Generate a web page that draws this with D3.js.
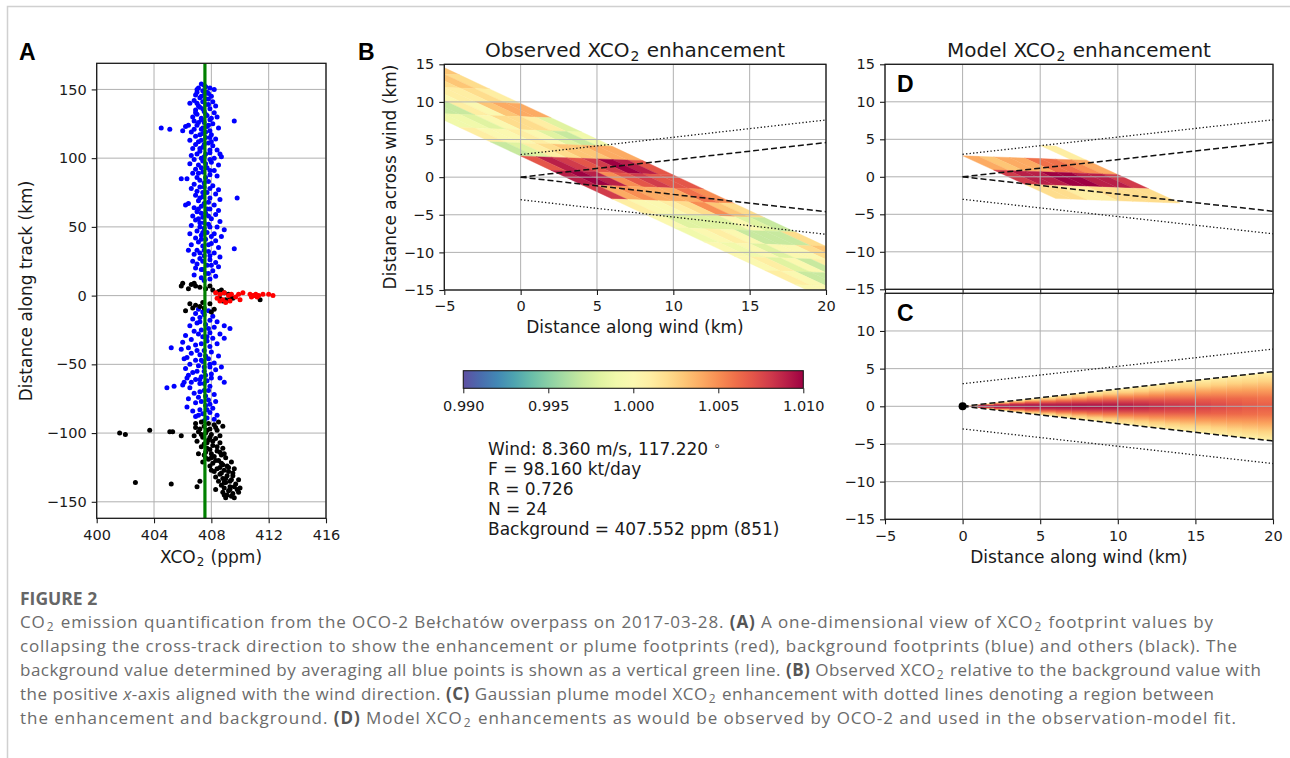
<!DOCTYPE html>
<html>
<head>
  <meta charset="utf-8" />
  <title>OCO-2 Belchatow XCO2 enhancement</title>
  <script src="https://d3js.org/d3.v7.min.js"></script>
  <style>
    body { margin: 0; background: #fff; }
    svg { display: block; }
  </style>
</head>
<body>
  <svg id="fig" width="1290" height="758"></svg>
  <script>
    // ---------- panel A : footprints collapsed along track ----------
    const xco2Ticks = [400, 404, 408, 412, 416];
    const trackTicks = [-150, -100, -50, 0, 50, 100, 150];
    const backgroundPpm = 407.552;

    const bluePts = [
      [407.3,154],[407.6,152],[407.1,151],[407.9,151],[408.2,150],[407.4,149],[407.0,148],[407.7,148],[406.9,146],[407.5,146],
      [408.0,145],[407.2,144],[407.8,143],[406.8,142],[407.4,141],[408.1,141],[407.0,140],[407.6,139],[406.5,140],[408.3,138],
      [407.2,137],[407.9,136],[406.9,135],[407.5,134],[408.2,133],[407.0,132],[407.7,131],[406.7,130],[408.4,130],[407.3,129],
      [407.9,128],[409.6,127],[406.8,127],[407.5,126],[408.1,125],[406.4,124],[407.0,124],[407.7,123],[406.2,123],[408.5,122],
      [404.5,122],[405.1,121],[406.0,120],[407.3,121],[407.9,120],
      [406.6,119],[407.4,118],[408.0,117],[406.9,116],[407.6,115],[408.3,114],[406.5,113],[407.1,112],[407.8,111],[406.9,110],
      [408.1,109],[407.4,108],[406.7,107],[408.4,106],[407.2,105],[407.9,104],[408.6,103],[406.6,102],[407.5,101],[408.2,100],
      [408.7,101],[406.8,99],
      [407.4,98],[408.0,97],[406.5,96],[407.1,95],[408.5,95],[407.7,93],[406.9,92],[408.2,91],[407.4,90],[406.7,89],
      [407.9,88],[408.4,87],[405.9,85],[406.3,85],[407.2,84],[407.8,83],[406.8,81],[408.1,80],[407.5,79],[406.6,78],
      [408.5,77],[407.0,76],[407.7,75],[408.3,74],[406.9,73],[407.4,72],[409.8,71],[408.6,70],[407.1,69],[407.8,68],
      [406.4,67],[406.2,66],[408.2,66],[407.3,65],[406.8,64],[407.9,63],[408.5,62],[407.0,61],[407.6,60],
      [408.3,59],[406.7,58],[407.4,57],[408.0,56],[406.9,55],[408.6,54],[407.2,53],[407.8,52],[406.6,51],[408.4,50],
      [407.5,49],[408.9,48],[407.0,47],[407.7,46],[406.5,45],[408.2,45],[407.3,44],[408.7,43],[406.9,42],[407.6,41],
      [408.3,40],[407.1,39],[408.0,38],[406.6,37],[407.4,36],[408.5,35],[409.6,34],[406.4,33],[407.0,33],[407.8,32],
      [408.2,31],[406.8,30],[407.5,29],[408.6,28],[407.2,27],[407.9,26],[406.7,25],[408.3,24],[407.0,23],[407.7,22],
      [408.5,21],[406.9,20],[407.4,19],[408.1,18],[407.6,16],[406.8,15],[408.3,14],[407.3,13],[407.9,12],
      [407.5,153],[407.0,150],[407.8,147],[407.3,145],[407.6,143],[407.1,138],[407.8,139],[407.4,136],[406.9,133],[407.6,132],
      [407.3,128],[408.0,129],[407.1,126],[407.8,124],[407.4,122],[406.8,121],[407.6,119],[407.2,117],[407.9,115],[407.3,113],
      [408.0,112],[407.5,110],[407.2,107],[407.9,106],[407.6,103],[407.0,103],[407.3,100],[407.9,99],[407.6,96],[407.3,93],
      [407.9,91],[407.1,89],[407.6,86],[407.0,86],[407.5,82],[407.2,79],[407.9,78],[407.4,75],[407.2,71],[407.9,71],
      [407.5,67],[407.1,63],[407.7,63],[407.3,60],[407.8,58],[407.1,56],[407.5,53],[407.2,50],[407.9,50],[407.4,46],
      [408.0,43],[407.3,41],[407.8,37],[407.5,33],[407.2,31],[407.9,29],[407.4,25],[408.0,22],[407.3,19],[407.8,16],[407.5,11],
      [407.1,-10],[407.8,-11],[406.9,-13],[407.5,-14],[408.1,-15],[407.2,-16],[406.7,-17],[407.9,-18],[408.4,-19],[407.0,-20],
      [407.6,-21],[406.5,-22],[408.2,-23],[408.9,-22],[409.3,-24],[407.3,-25],[406.8,-26],[407.9,-27],[408.6,-28],[406.2,-29],
      [407.4,-30],[408.1,-31],[406.6,-32],[407.7,-33],[406.0,-34],[408.4,-35],[406.9,-36],[405.2,-38],[405.9,-39],[406.4,-38],
      [407.5,-40],[408.0,-41],[406.6,-42],[407.2,-43],[408.5,-44],[406.3,-45],[407.8,-46],[406.9,-47],[407.4,-48],[408.2,-49],
      [406.5,-50],[407.1,-51],[407.9,-52],[406.2,-53],[408.3,-54],[407.5,-55],[406.7,-56],[408.0,-57],[406.4,-58],[407.3,-59],
      [408.6,-60],[406.9,-61],[407.7,-62],[406.1,-63],[408.9,-63],[407.2,-64],[406.0,-65],[405.4,-66],[404.9,-67],[406.5,-67],
      [407.9,-66],[407.5,-69],[406.8,-71],[408.2,-72],[407.1,-74],[406.4,-75],[407.8,-76],[408.3,-77],[406.9,-78],[407.6,-80],
      [406.3,-81],[407.2,-83],[408.1,-82],[406.7,-84],[407.9,-85],[407.4,-86],[408.4,-87],[406.9,-88],[407.7,-89],[408.2,-90],
      [407.4,-12],[407.2,-19],[407.8,-24],[407.1,-28],[407.7,-30],[407.3,-35],[407.9,-37],[407.0,-40],[407.6,-44],[407.3,-47],
      [407.9,-50],[407.5,-52],[407.0,-55],[407.6,-58],[407.2,-61],[408.0,-60],[407.5,-64],[407.8,-69],[407.2,-70],[407.6,-73],
      [407.9,-79],[407.3,-77],[407.7,-83],[407.1,-87],[407.5,-91],[406.6,-63],[406.3,-60],[408.7,-52],[408.9,-31],[406.1,-46]
    ];

    const blackPts = [
      [406.0,9],[405.9,7],[406.6,8],[406.9,7],[407.2,6],[406.4,5],[407.6,5],[408.1,4],[408.5,3],[408.9,2],
      [409.2,1],[408.7,4],[407.9,7],[406.8,9],[409.3,-1],[409.5,-2],[408.6,-2],[408.8,-4],[411.4,-3],[406.9,-7],
      [407.2,-8],[407.5,-9],[407.9,-6],[408.2,-10],[406.7,-9],[406.5,-6],[406.2,-11],[408.0,-12],[407.4,-5],[409.0,-3],
      [401.6,-100],[402.0,-101],[403.7,-98],[405.1,-99],[405.3,-99],[405.9,-102],[402.7,-136],[405.2,-137],[407.0,-139],[407.2,-135],
      [407.3,-92],[407.8,-93],[408.2,-94],[407.5,-95],[406.9,-96],[407.9,-97],[408.4,-98],[407.1,-99],[407.6,-100],[408.0,-101],
      [406.8,-102],[407.4,-103],[408.3,-104],[407.8,-105],[407.0,-106],[408.6,-107],[407.5,-108],[408.1,-109],[407.3,-110],[408.8,-111],
      [407.9,-112],[408.4,-113],[407.6,-114],[407.1,-115],[408.7,-116],[408.2,-117],[409.0,-118],[407.8,-119],[408.5,-120],[409.4,-121],
      [408.1,-122],[408.8,-123],[407.9,-124],[409.2,-125],[408.4,-126],[408.9,-127],[408.2,-128],[409.5,-129],[408.6,-130],[409.1,-131],
      [408.3,-132],[408.8,-133],[409.4,-134],[408.5,-135],[409.0,-136],[409.7,-137],[408.7,-138],[409.3,-139],[408.9,-140],[409.8,-141],
      [409.2,-142],[408.8,-143],[409.5,-144],[409.1,-145],[409.0,-147],[409.4,-146],[410.0,-140],[409.9,-143],[407.7,-107],[407.4,-121],
      [408.0,-127],[408.3,-141],[407.5,-116],[409.6,-126],[407.2,-97],[408.5,-92],
      [408.3,-96],[407.7,-98],[408.6,-102],[407.9,-103],[408.1,-106],[408.4,-110],[407.7,-111],[408.6,-114],[408.0,-115],[408.9,-115],
      [407.6,-118],[408.3,-120],[408.7,-122],[409.1,-124],[408.6,-125],[409.2,-128],[408.7,-129],[409.0,-133],[409.3,-135],[408.9,-136],
      [409.6,-139],[409.3,-141],[409.6,-147],[408.9,-145],[409.5,-131],[408.0,-118],[407.3,-101],[408.8,-95],[406.9,-93],[409.9,-134]
    ];

    const redPts = [
      [408.3,2],[408.6,1],[408.9,2],[409.2,0],[409.4,1],[409.7,-1],[409.9,1],[410.2,2],[410.7,1],[410.8,-1],
      [410.9,0],[411.0,0],[411.1,1],[411.2,-1],[411.3,0],[411.6,1],[412.0,1],[412.3,0],[408.4,-2],[408.6,-4],
      [408.8,-3],[409.0,-5],[409.3,-4],[410.0,-3]
    ];

    // ---------- panels B, C, D : wind-rotated frame ----------
    const windTicks = [-5, 0, 5, 10, 15, 20];
    const acrossTicks = [-15, -10, -5, 0, 5, 10, 15];
    const acrossTicksC = [-15, -10, -5, 0, 5, 10];
    const cbarTicks = [0.990, 0.995, 1.000, 1.005, 1.010];

    // observed XCO2 / background, 8 cross-track rows x 18 along-track footprints
    const obsRatio = [
      [1.003,1.002,1.001,1.004,0.998,0.999,1.004,1.007,1.007,1.005,1.002,0.997,1.002,1.003,1.001,1.000,1.000,1.000],
      [1.002,1.003,1.002,1.004,1.001,0.997,1.004,1.009,1.007,1.006,1.003,0.998,0.997,1.002,1.001,1.000,1.000,1.000],
      [1.001,1.002,1.001,1.003,1.002,0.998,1.003,1.010,1.008,1.004,1.005,1.000,0.997,1.000,1.001,1.000,1.000,1.000],
      [1.001,1.002,1.001,1.000,1.002,1.000,1.003,1.008,1.007,1.004,1.002,0.998,0.997,1.000,0.997,1.000,1.000,1.000],
      [1.000,1.001,1.000,1.001,1.000,1.001,1.002,1.007,1.005,1.004,1.001,0.998,1.000,0.998,1.000,0.997,1.000,1.000],
      [1.000,1.000,1.000,0.997,0.998,1.000,1.001,1.008,1.009,1.005,1.000,0.998,1.001,1.000,0.998,0.997,1.000,1.000],
      [1.000,1.000,0.999,0.997,0.999,1.000,0.998,1.009,1.010,1.004,1.000,0.998,1.000,0.999,1.001,1.000,1.000,1.000],
      [0.999,0.999,0.999,1.000,0.999,1.001,0.997,1.007,1.009,1.008,1.001,1.000,0.999,1.000,1.000,1.001,1.000,1.000]
    ];

    // model enhancement sampled on the same footprints (null = not shown)
    const _ = null;
    const modelRatio = [
      [_,_,_,_,_,_,1.001,1.004,1.008,1.002,_,_,_,_,_,_,_,_],
      [_,_,_,_,_,_,_,1.005,1.009,1.002,_,_,_,_,_,_,_,_],
      [_,_,_,_,_,_,_,1.006,1.009,1.002,_,_,_,_,_,_,_,_],
      [_,_,_,_,_,_,_,1.006,1.010,1.002,_,_,_,_,_,_,_,_],
      [_,_,_,_,_,_,_,1.004,1.010,1.001,_,_,_,_,_,_,_,_],
      [_,_,_,_,_,_,_,1.004,1.009,1.001,_,_,_,_,_,_,_,_],
      [_,_,_,_,_,_,_,1.003,1.009,1.002,_,_,_,_,_,_,_,_],
      [_,_,_,_,_,_,_,1.004,1.008,1.002,_,_,_,_,_,_,_,_]
    ];

    // Gaussian plume (C): ratio across the plume at 0, 1/4, 1/2, 3/4, 1 of the half-width, per 1 km slice
    const plumeEdges = [0,1,2,3,4,5,6,7,8,9,10,11,12,13,14,15,16,17,18,19,20];
    const plumeCenter = [1.0100,1.0100,1.0100,1.0100,1.0100,1.0100,1.0100,1.0100,1.0099,1.0097,1.0094,1.0091,1.0088,1.0085,1.0082,1.0079,1.0076,1.0073,1.0070,1.0068];
    const plumeQ1 = [1.0098,1.0095,1.0092,1.0090,1.0088,1.0086,1.0084,1.0083,1.0081,1.0080,1.0078,1.0076,1.0073,1.0071,1.0069,1.0067,1.0065,1.0063,1.0061,1.0059];
    const plumeQ2 = [1.0085,1.0078,1.0072,1.0068,1.0065,1.0062,1.0060,1.0058,1.0057,1.0055,1.0054,1.0052,1.0051,1.0050,1.0048,1.0047,1.0046,1.0045,1.0044,1.0043];
    const plumeQ3 = [1.0055,1.0045,1.0040,1.0036,1.0034,1.0032,1.0031,1.0030,1.0029,1.0028,1.0028,1.0027,1.0027,1.0026,1.0026,1.0025,1.0025,1.0025,1.0024,1.0024];
    const plumeEdge = [1.0020,1.0015,1.0012,1.0010,1.0010,1.0009,1.0009,1.0009,1.0008,1.0008,1.0008,1.0008,1.0008,1.0008,1.0008,1.0008,1.0008,1.0008,1.0008,1.0008];

    const dashedLines = [[[0, 0], [20, 4.6]], [[0, 0], [20, -4.6]]];
    const dottedLines = [[[0, 3], [20, 7.6]], [[0, -3], [20, -7.6]]];
    const sourcePt = [0, 0];

    const infoLines = ["Wind: 8.360 m/s, 117.220", "F = 98.160 kt/day", "R = 0.726", "N = 24", "Background = 407.552 ppm (851)"];

    // footprint grid geometry (km, wind frame)
    const fpOrigin = [-6, 15.5], fpAlong = [2, -1.9], fpCross = [-1.0, 0.075];

    const FONT = "'DejaVu Sans', sans-serif";
    const INK = "#1a1a1a";
    const svg = d3.select("#fig");
    const defs = svg.append("defs");

    const color = d3.scaleSequential(t => d3.interpolateSpectral(1 - t)).domain([0.99, 1.01]).clamp(true);

    function panel(x0, x1, y0, y1, xd, yd) {
      return { x: d3.scaleLinear(xd, [x0, x1]), y: d3.scaleLinear(yd, [y1, y0]) };
    }
    const A = panel(96.7, 326, 63.3, 518.3, [400, 416], [-162, 169]);
    const B = panel(444.3, 826, 64.3, 290, [-5, 20], [-15, 15]);
    const D = panel(885, 1273, 64.3, 289.3, [-5, 20], [-15, 15]);
    const C = panel(885, 1273, 293.3, 519.3, [-5, 20], [-15, 15]);

    function clipFor(p, id) {
      const [xa, xb] = p.x.range(), [ya, yb] = p.y.range();
      defs.append("clipPath").attr("id", id).append("rect")
        .attr("x", xa).attr("y", yb).attr("width", xb - xa).attr("height", ya - yb);
      return `url(#${id})`;
    }

    function grid(p, xt, yt) {
      const [xa, xb] = p.x.range(), [ya, yb] = p.y.range();
      const g = svg.append("g").attr("stroke", "#b0b0b0").attr("stroke-width", 1);
      g.selectAll(".gx").data(xt).join("line")
        .attr("x1", d => p.x(d)).attr("x2", d => p.x(d)).attr("y1", ya).attr("y2", yb);
      g.selectAll(".gy").data(yt).join("line")
        .attr("y1", d => p.y(d)).attr("y2", d => p.y(d)).attr("x1", xa).attr("x2", xb);
    }

    function axes(p, xt, yt, showX) {
      const [xa, xb] = p.x.range(), [ya, yb] = p.y.range();
      const ax = svg.append("g").attr("transform", `translate(0,${ya})`)
        .call(d3.axisBottom(p.x).tickValues(xt).tickSize(5).tickPadding(6)
          .tickFormat(showX ? d3.format("d") : () => ""));
      const ay = svg.append("g").attr("transform", `translate(${xa},0)`)
        .call(d3.axisLeft(p.y).tickValues(yt).tickSize(5).tickPadding(5).tickFormat(d3.format("d")));
      [ax, ay].forEach(a => {
        a.select(".domain").remove();
        a.attr("font-family", FONT).attr("font-size", 14.5);
        a.selectAll("line").attr("stroke", INK).attr("stroke-width", 1.1);
        a.selectAll("text").attr("fill", INK);
      });
      svg.append("rect").attr("x", xa).attr("y", yb).attr("width", xb - xa).attr("height", ya - yb)
        .attr("fill", "none").attr("stroke", INK).attr("stroke-width", 1.3);
    }

    // text with sub-scripts / bold / italic pieces
    function rich(t, parts, size) {
      let low = false;
      parts.forEach(p => {
        const s = t.append("tspan");
        if (typeof p === "object" && p.sub) {
          s.text(p.sub).attr("font-size", size * 0.7).attr("dy", size * 0.2).attr("dx", 1);
          low = true;
          return;
        }
        if (low) { s.attr("dy", -size * 0.2).attr("dx", 1); low = false; }
        if (typeof p === "string") s.text(p);
        else if (p.b) s.text(p.b).attr("font-weight", 700).attr("fill", "#555");
        else if (p.i) s.text(p.i).attr("font-style", "italic");
      });
      return t;
    }

    function label(x, y, parts, size, opts = {}) {
      const t = svg.append("text").attr("x", x).attr("y", y)
        .attr("font-family", opts.font || FONT).attr("font-size", size)
        .attr("fill", opts.fill || INK).attr("text-anchor", opts.anchor || "middle");
      if (opts.rotate) t.attr("transform", `rotate(-90,${x},${y})`);
      if (opts.weight) t.attr("font-weight", opts.weight);
      return rich(t, parts, size);
    }

    const linePath = p => d3.line().x(d => p.x(d[0])).y(d => p.y(d[1]));

    function guideLines(p, clip) {
      const g = svg.append("g").attr("clip-path", clip).attr("fill", "none").attr("stroke", "#111");
      g.selectAll(".dash").data(dashedLines).join("path")
        .attr("d", linePath(p)).attr("stroke-width", 1.5).attr("stroke-dasharray", "6,3");
      g.selectAll(".dot").data(dottedLines).join("path")
        .attr("d", linePath(p)).attr("stroke-width", 1.3).attr("stroke-dasharray", "1.3,2.2");
    }

    const corner = (i, j) => [fpOrigin[0] + j * fpAlong[0] + i * fpCross[0], fpOrigin[1] + j * fpAlong[1] + i * fpCross[1]];
    function cells(matrix) {
      const out = [];
      matrix.forEach((row, i) => row.forEach((v, j) => {
        if (v == null) return;
        out.push({ v, pts: [corner(i, j), corner(i, j + 1), corner(i + 1, j + 1), corner(i + 1, j)] });
      }));
      return out;
    }
    function footprints(p, matrix, clip) {
      svg.append("g").attr("clip-path", clip).selectAll("path").data(cells(matrix)).join("path")
        .attr("d", d => linePath(p)(d.pts) + "Z")
        .attr("fill", d => color(d.v)).attr("stroke", d => color(d.v)).attr("stroke-width", 0.4);
    }

    // ---------------- frame ----------------
    svg.append("path").attr("d", "M7.5,758V6.5H1290").attr("fill", "none")
      .attr("stroke", "#d0d0d0").attr("stroke-width", 1.5);

    // ---------------- panel A ----------------
    grid(A, xco2Ticks, trackTicks);
    const clipA = clipFor(A, "clipA");
    const gA = svg.append("g").attr("clip-path", clipA);
    [[bluePts, "#0000ff"], [blackPts, "#000000"], [redPts, "#ff0000"]].forEach(([pts, c]) => {
      gA.append("g").selectAll("circle").data(pts).join("circle")
        .attr("cx", d => A.x(d[0])).attr("cy", d => A.y(d[1])).attr("r", 2.5).attr("fill", c);
    });
    gA.append("line").attr("x1", A.x(backgroundPpm)).attr("x2", A.x(backgroundPpm))
      .attr("y1", A.y.range()[0]).attr("y2", A.y.range()[1])
      .attr("stroke", "#008000").attr("stroke-width", 3.2);
    axes(A, xco2Ticks, trackTicks, true);
    label(211, 563, ["XCO", { sub: "2" }, " (ppm)"], 17);
    label(32, 291, ["Distance along track (km)"], 17, { rotate: true });
    label(19, 60, ["A"], 23, { anchor: "start", font: "'Liberation Sans', Arial, sans-serif", weight: 700, fill: "#000" });

    // ---------------- panel B ----------------
    const clipB = clipFor(B, "clipB");
    footprints(B, obsRatio, clipB);
    grid(B, windTicks, acrossTicks);
    guideLines(B, clipB);
    axes(B, windTicks, acrossTicks, true);
    label(635, 57, ["Observed XCO", { sub: "2" }, " enhancement"], 20);
    label(635, 332.5, ["Distance along wind (km)"], 17);
    label(396, 177, ["Distance across wind (km)"], 17, { rotate: true });
    label(358, 60, ["B"], 23, { anchor: "start", font: "'Liberation Sans', Arial, sans-serif", weight: 700, fill: "#000" });

    // colour bar
    const cb = { x0: 463.3, x1: 803.3, y0: 370.7, y1: 388.3 };
    const cbGrad = defs.append("linearGradient").attr("id", "cbar");
    d3.range(0, 1.0001, 0.05).forEach(t => {
      cbGrad.append("stop").attr("offset", t).attr("stop-color", color(0.99 + 0.02 * t));
    });
    svg.append("rect").attr("x", cb.x0).attr("y", cb.y0).attr("width", cb.x1 - cb.x0).attr("height", cb.y1 - cb.y0)
      .attr("fill", "url(#cbar)").attr("stroke", INK).attr("stroke-width", 1.1);
    const cbScale = d3.scaleLinear([0.99, 1.01], [cb.x0, cb.x1]);
    const cbAxis = svg.append("g").attr("transform", `translate(0,${cb.y1})`)
      .call(d3.axisBottom(cbScale).tickValues(cbarTicks).tickSize(5).tickPadding(7).tickFormat(d3.format(".3f")));
    cbAxis.select(".domain").remove();
    cbAxis.attr("font-family", FONT).attr("font-size", 14.5);
    cbAxis.selectAll("line").attr("stroke", INK);
    cbAxis.selectAll("text").attr("fill", INK);

    // fit summary
    const info = svg.append("text").attr("font-family", FONT).attr("font-size", 17).attr("fill", INK);
    infoLines.forEach((s, k) => {
      info.append("tspan").attr("x", 488).attr("y", 455 + 20 * k).text(s);
      if (k === 0) info.append("tspan").attr("dx", 5).attr("dy", -5).attr("font-size", 12).text("\u2218");
    });

    // ---------------- panel D ----------------
    const clipD = clipFor(D, "clipD");
    footprints(D, modelRatio, clipD);
    grid(D, windTicks, acrossTicks);
    guideLines(D, clipD);
    axes(D, windTicks, acrossTicks, false);
    label(1079, 57, ["Model XCO", { sub: "2" }, " enhancement"], 20);
    label(897, 92, ["D"], 23, { anchor: "start", font: "'Liberation Sans', Arial, sans-serif", weight: 700, fill: "#000" });

    // ---------------- panel C ----------------
    const clipC = clipFor(C, "clipC");
    const halfWidth = d3.scaleLinear([dashedLines[0][0][0], dashedLines[0][1][0]], [dashedLines[0][0][1], dashedLines[0][1][1]]);
    const gC = svg.append("g").attr("clip-path", clipC);
    plumeCenter.forEach((c, k) => {
      const xa = plumeEdges[k], xb = plumeEdges[k + 1], xm = (xa + xb) / 2;
      const hw = halfWidth(xm);
      const prof = [plumeEdge[k], plumeQ3[k], plumeQ2[k], plumeQ1[k], plumeCenter[k], plumeQ1[k], plumeQ2[k], plumeQ3[k], plumeEdge[k]];
      const gr = defs.append("linearGradient").attr("id", "plume" + k).attr("gradientUnits", "userSpaceOnUse")
        .attr("x1", 0).attr("x2", 0).attr("y1", C.y(hw)).attr("y2", C.y(-hw));
      prof.forEach((v, s) => gr.append("stop").attr("offset", s / 8).attr("stop-color", color(v)));
      const poly = [[xa, halfWidth(xa)], [xb + 0.02, halfWidth(xb)], [xb + 0.02, -halfWidth(xb)], [xa, -halfWidth(xa)]];
      gC.append("path").attr("d", linePath(C)(poly) + "Z").attr("fill", `url(#plume${k})`);
    });
    grid(C, windTicks, acrossTicks);
    guideLines(C, clipC);
    svg.append("circle").attr("cx", C.x(sourcePt[0])).attr("cy", C.y(sourcePt[1])).attr("r", 4).attr("fill", "#000");
    axes(C, windTicks, acrossTicksC, true);
    label(1079, 562.5, ["Distance along wind (km)"], 17);
    label(897, 321, ["C"], 23, { anchor: "start", font: "'Liberation Sans', Arial, sans-serif", weight: 700, fill: "#000" });

    // ---------------- caption ----------------
    const capFont = "'Open Sans', Lato, sans-serif";
    svg.append("text").attr("x", 20).attr("y", 605).attr("font-family", capFont).attr("font-size", 17.5)
      .attr("font-weight", 700).attr("fill", "#666").text("FIGURE 2");
    const captionLines = [
      [["CO", { sub: "2" }, " emission quantification from the OCO-2 Bełchatów overpass on 2017-03-28. ", { b: "(A)" }, " A one-dimensional view of XCO", { sub: "2" }, " footprint values by"], 1213],
      [["collapsing the cross-track direction to show the enhancement or plume footprints (red), background footprints (blue) and others (black). The"], 1237],
      [["background value determined by averaging all blue points is shown as a vertical green line. ", { b: "(B)" }, " Observed XCO", { sub: "2" }, " relative to the background value with"], 1261],
      [["the positive ", { i: "x" }, "-axis aligned with the wind direction. ", { b: "(C)" }, " Gaussian plume model XCO", { sub: "2" }, " enhancement with dotted lines denoting a region between"], 1214],
      [["the enhancement and background. ", { b: "(D)" }, " Model XCO", { sub: "2" }, " enhancements as would be observed by OCO-2 and used in the observation-model fit."], 1236]
    ];
    captionLines.forEach(([parts, xEnd], k) => {
      const t = svg.append("text").attr("x", 20).attr("y", 628 + 24 * k)
        .attr("font-family", capFont).attr("font-size", 17).attr("fill", "#6b6b6b")
        .attr("textLength", xEnd - 20).attr("lengthAdjust", "spacing");
      rich(t, parts, 17);
    });
  </script>
</body>
</html>
